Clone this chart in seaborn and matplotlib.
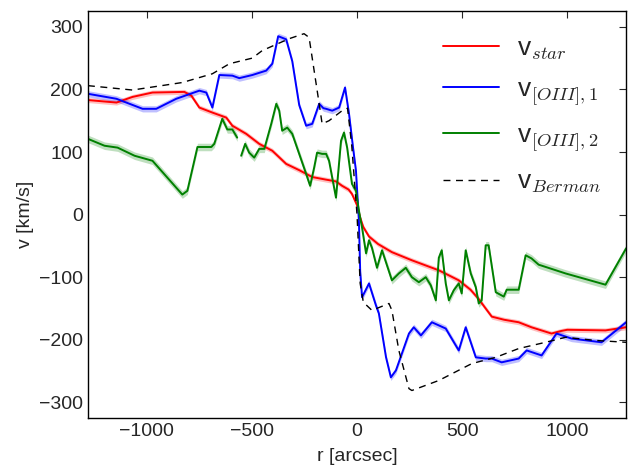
import numpy as np
import pandas as pd
import matplotlib
matplotlib.use('Agg')
import matplotlib.pyplot as plt
import seaborn as sns

# stellar velocity
r_star = [-1280, -1144, -1068, -973, -821, -788, -750, -688, -622, -593, -527, -465,
          -403, -337, -275, -213, -150, -100, -71, -40, -24, 0, 15, 30, 57, 100, 166,
          261, 389, 484, 540, 579, 612, 641, 700, 769, 830, 925, 970, 1000, 1182, 1280]
v_star = [183, 179, 188, 195, 196, 190, 171, 163, 155, 142, 129, 113,
          102, 81, 71, 60, 56, 53, 46, 40, 33, 15, -5, -20, -35, -47, -60,
          -73, -89, -105, -120, -135, -150, -163, -168, -172, -180, -190, -186, -184, -185, -180]

# [OIII] component 1
r_o1 = [-1280, -1144, -1020, -955, -860, -750, -717, -688, -655, -593, -560, -498,
        -432, -403, -375, -337, -308, -275, -242, -213, -180, -160, -147, -118, -85,
        -57, -38, -20, -5, 9, 15, 24, 57, 90, 104, 138, 161, 185, 247, 270, 304,
        356, 422, 484, 517, 565, 612, 641, 688, 769, 807, 878, 949, 1020, 1163, 1280]
v_o1 = [193, 185, 169, 169, 185, 198, 195, 171, 223, 222, 218, 223,
        230, 241, 285, 280, 245, 175, 142, 145, 177, 170, 169, 166, 171,
        203, 161, 110, 70, -10, -90, -132, -110, -145, -158, -228, -260, -249, -190, -180, -193,
        -172, -182, -217, -180, -228, -230, -230, -236, -230, -217, -225, -190, -198, -204, -172]

# [OIII] component 2 (two pieces)
r_o2a = [-1280, -1201, -1139, -1058, -973, -902, -831, -807, -759, -693, -679, -641,
         -617, -593, -570]
v_o2a = [121, 110, 107, 94, 86, 59, 32, 38, 108, 108, 113, 153,
         136, 136, 123]
r_o2b = [-551, -532, -513, -489, -465, -441, -408, -384, -370, -356, -332, -308,
         -275, -242, -223, -204, -190, -166, -147, -133, -118, -100, -76, -62, -47,
         -24, -5, 9, 24, 43, 57, 71, 95, 119, 166, 199, 232, 261, 294, 327, 351,
         375, 389, 403, 422, 437, 460, 484, 498, 517, 541, 565, 579, 593, 612, 626,
         660, 698, 712, 769, 802, 830, 864, 992, 1182, 1280]
v_o2b = [94, 113, 99, 91, 105, 105, 145, 177, 166, 134, 139, 129,
         97, 65, 46, 75, 99, 97, 97, 86, 59, 27, 118, 131, 107,
         49, 38, 6, -21, -62, -41, -53, -85, -57, -105, -94, -85, -100, -108, -100, -113,
         -137, -69, -57, -110, -137, -121, -110, -126, -57, -94, -116, -142, -137, -49, -49,
         -124, -131, -120, -120, -65, -70, -80, -94, -112, -54]

# Berman model
r_berman = [-1280, -1068, -831, -688, -607, -498, -451, -323, -252, -228, -204, -180,
            -166, -133, -71, -45, -25, 0, 15, 30, 71, 152, 166, 199, 247, 261, 389,
            546, 660, 769, 897, 992, 1134, 1280]
v_berman = [206, 199, 211, 225, 241, 250, 262, 281, 289, 283, 230, 177,
            145, 150, 166, 170, 110, 0, -110, -140, -153, -142, -153, -217, -278, -281, -265,
            -238, -228, -214, -204, -196, -201, -204]

err_star, err_o1, err_o2 = 4, 5, 6

sns.set_style('white')
plt.rcParams['font.family'] = ['Liberation Sans', 'DejaVu Sans']
plt.rcParams['mathtext.fontset'] = 'cm'
plt.rcParams['xtick.direction'] = 'in'
plt.rcParams['ytick.direction'] = 'in'
plt.rcParams['xtick.top'] = True
plt.rcParams['ytick.right'] = True

fig = plt.figure(figsize=(6.28, 4.65), dpi=100)
ax = fig.add_axes([0.140, 0.101, 0.857, 0.875])


def band(r, v, e, c):
    r = np.array(r)
    v = np.array(v, dtype=float)
    ax.fill_between(r, v - e, v + e, color=c, alpha=0.25, lw=0)


band(r_o2a, v_o2a, err_o2, 'g')
band(r_o2b, v_o2b, err_o2, 'g')
band(r_star, v_star, err_star, 'r')
band(r_o1, v_o1, err_o1, 'b')

sns.lineplot(x=r_star, y=v_star, color='r', lw=1.4, sort=False, ax=ax,
             label=r'v$_{star}$')
sns.lineplot(x=r_o1, y=v_o1, color='b', lw=1.4, sort=False, ax=ax,
             label=r'v$_{[OIII],1}$')
sns.lineplot(x=r_o2a, y=v_o2a, color='g', lw=1.4, sort=False, ax=ax,
             label=r'v$_{[OIII],2}$')
sns.lineplot(x=r_o2b, y=v_o2b, color='g', lw=1.4, sort=False, ax=ax,
             label='_nolegend_')
sns.lineplot(x=r_berman, y=v_berman, color='k', lw=1.0, sort=False, ax=ax,
             label=r'v$_{Berman}$')
ax.lines[-1].set_linestyle((0, (5, 4)))

ax.set_xlim(-1280, 1280)
ax.set_ylim(-325, 325)
ax.set_xticks([-1000, -500, 0, 500, 1000])
ax.set_yticks([-300, -200, -100, 0, 100, 200, 300])
ax.tick_params(labelsize=14, length=5, width=0.8)
ax.set_xlabel('r [arcsec]', fontsize=14, labelpad=6)
ax.set_ylabel('v [km/s]', fontsize=14, labelpad=4)
for s in ax.spines.values():
    s.set_linewidth(1.0)
    s.set_color('black')

leg = ax.legend(loc='upper right', frameon=False, fontsize=19, handlelength=2.1,
                handletextpad=0.7, labelspacing=0.6, borderaxespad=0.55)

plt.savefig('out.png', dpi=100)
